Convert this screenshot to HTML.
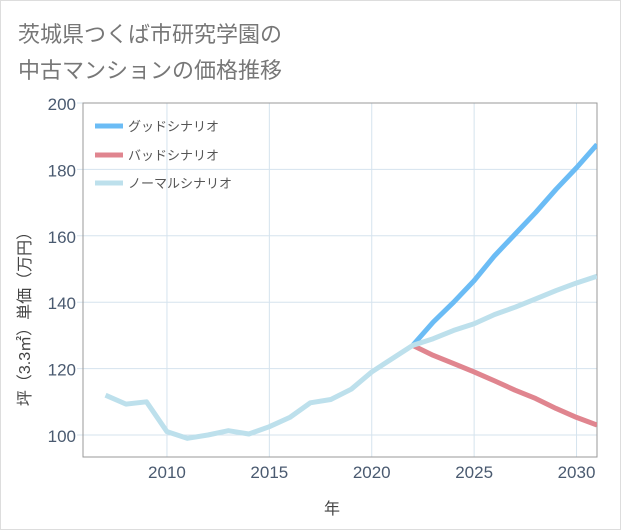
<!DOCTYPE html>
<html><head><meta charset="utf-8"><style>
body{margin:0;background:#fff;}
svg{display:block;font-family:"Liberation Sans","Noto Sans CJK JP",sans-serif;}
</style></head><body>
<svg id="chart" width="621" height="530">
<rect x="0.5" y="0.5" width="620" height="529" fill="#fff" stroke="#ddd"/>
<text x="18" y="42" font-size="22" fill="#777">茨城県つくば市研究学園の</text>
<text x="18" y="78" font-size="22" fill="#777">中古マンションの価格推移</text>
<g id="grid"></g>
<rect x="83" y="103" width="514" height="354" fill="none" stroke="#999"/>
<g id="series"></g>
<g id="axes"></g>
<text x="332" y="514" font-size="16" fill="#444" text-anchor="middle">年</text>
<text transform="translate(30,315) rotate(-90)" font-size="16" fill="#444" text-anchor="middle">坪（3.3㎡）単価（万円）</text>
<g>
<line x1="95" y1="126" x2="123" y2="126" stroke="#6bbcf5" stroke-width="5"/>
<text x="128" y="131" font-size="13" fill="#555">グッドシナリオ</text>
<line x1="95" y1="155" x2="123" y2="155" stroke="#e0858f" stroke-width="5"/>
<text x="128" y="160" font-size="13" fill="#555">バッドシナリオ</text>
<line x1="95" y1="183" x2="123" y2="183" stroke="#bde0ec" stroke-width="5"/>
<text x="128" y="188" font-size="13" fill="#555">ノーマルシナリオ</text>
</g>
</svg>
<script>
const normalYears=[2007,2008,2009,2010,2011,2012,2013,2014,2015,2016,2017,2018,2019,2020,2021,2022,2023,2024,2025,2026,2027,2028,2029,2030,2031];
const normalValues=[112,109.3,110,101,99,100,101.3,100.3,102.5,105.3,109.7,110.7,113.8,119,123,127,129,131.5,133.5,136.3,138.5,141,143.5,145.8,147.8];
const forecastYears=[2022,2023,2024,2025,2026,2027,2028,2029,2030,2031];
const goodValues=[127,134,140,146.5,154,160.5,167,174,180.5,187.5];
const badValues=[127,124,121.5,119,116.3,113.5,111,108,105.3,103];
const xTicks=[2010,2015,2020,2025,2030];
const yTicks=[100,120,140,160,180,200];
const NS="http://www.w3.org/2000/svg";
const X=v=>83+(v-2005.9)*(514/25.1);
const Y=v=>435-(v-100)*(332/100);
const grid=document.getElementById('grid'),axes=document.getElementById('axes'),series=document.getElementById('series');
function mk(tag,attrs,parent){const e=document.createElementNS(NS,tag);for(const k in attrs)e.setAttribute(k,attrs[k]);parent.appendChild(e);return e;}
xTicks.forEach(t=>{
 const l=mk('line',{x1:X(t),x2:X(t),y1:103,y2:457,stroke:'#d5e3ee'},grid);
 
 
 const tx=mk('text',{x:X(t),y:478,'font-size':17,fill:'#4a5a70','text-anchor':'middle'},axes);
 tx.textContent=t;
 
 
});
yTicks.forEach(t=>{
 const l=mk('line',{x1:77,x2:597,y1:Y(t),y2:Y(t),stroke:'#d5e3ee'},grid);
 
 
 const tx=mk('text',{x:76,y:Y(t)+7,'font-size':17,fill:'#4a5a70','text-anchor':'end'},axes);
 tx.textContent=t;
 
 
});
function line(xs,vs,color,name){
 const p=mk('polyline',{points:xs.map((x,i)=>X(x)+','+Y(vs[i])).join(' '),fill:'none',stroke:color,'stroke-width':5,'stroke-linejoin':'round'},series);
 
 
}
const cp=mk('clipPath',{id:'clip'},document.getElementById('chart'));
mk('rect',{x:83,y:103,width:514,height:354},cp);
series.setAttribute('clip-path','url(#clip)');
line(forecastYears,goodValues,'#6bbcf5','good-scenario-line');
line(forecastYears,badValues,'#e0858f','bad-scenario-line');
line(normalYears,normalValues,'#bde0ec','normal-scenario-line');
</script>
</body></html>
